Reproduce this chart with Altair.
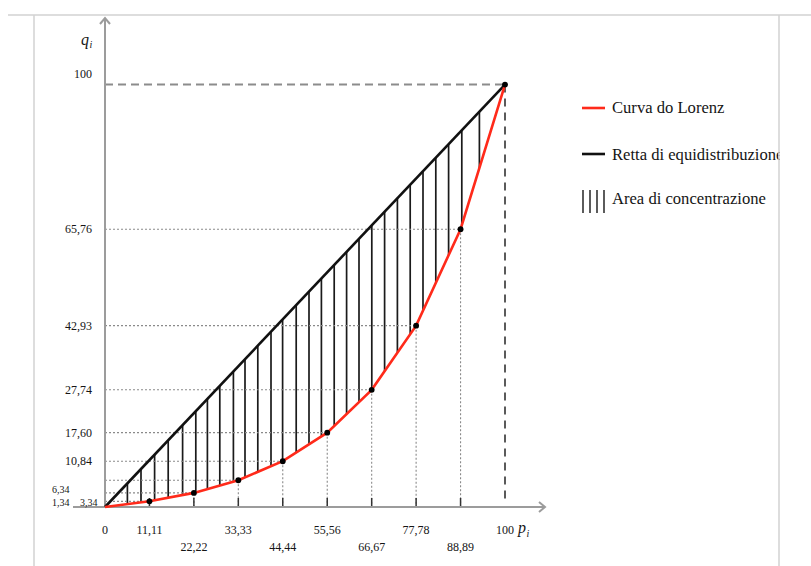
import altair as alt
import pandas as pd

# ---------------- data ----------------
p_vals = [0, 11.11, 22.22, 33.33, 44.44, 55.56, 66.67, 77.78, 88.89, 100]
q_vals = [0, 1.34, 3.34, 6.34, 10.84, 17.60, 27.74, 42.93, 65.76, 100]
x_tick_labels = ["0", "11,11", "22,22", "33,33", "44,44", "55,56", "66,67", "77,78", "88,89", "100"]
y_tick_vals = [10.84, 17.60, 27.74, 42.93, 65.76]
y_tick_labels = ["10,84", "17,60", "27,74", "42,93", "65,76"]
hatch_p = [5.6, 9.0, 12.4, 15.8, 19.4, 22.7, 25.6, 28.7, 32.1, 35.0, 38.2, 41.5, 44.4,
           47.8, 51.0, 54.1, 57.3, 60.4, 63.5, 66.7, 69.9, 73.1, 76.3, 79.5, 82.7,
           85.9, 89.2, 93.6]
legend_labels = ["Curva do Lorenz", "Retta di equidistribuzione", "Area di concentrazione"]

FONT = "Liberation Serif"
TXT = "#151515"
W, H = 440, 490
xs = alt.Scale(domain=[0, 110], nice=False, zero=False)
ys = alt.Scale(domain=[0, 116], nice=False, zero=False)

lor = pd.DataFrame({"p": p_vals, "q": q_vals})
pts = lor[lor.p > 0].reset_index(drop=True)
mid = pts[pts.p < 100].reset_index(drop=True)
top = pts[pts.p == 100].reset_index(drop=True)
eq = pd.DataFrame({"p": [p_vals[0], p_vals[-1]], "q": [p_vals[0], p_vals[-1]]})

rows = []
for i, (p, lab) in enumerate(zip(p_vals, x_tick_labels)):
    rows.append({"p": p, "lab": lab, "row": 1 if (i % 2 == 0 and 0 < i < len(p_vals) - 1) else 0})
xlab = pd.DataFrame(rows)
ylab = pd.DataFrame({"q": y_tick_vals, "lab": y_tick_labels})

X = lambda f: alt.X(f, scale=xs, axis=None)
Y = lambda f: alt.Y(f, scale=ys, axis=None)

one = pd.DataFrame({"a": [0]})

# hatch lines (from equidistribution line down; lower part hidden by white area)
hatch = alt.Chart(pd.DataFrame({"p": hatch_p})).transform_calculate(
    top="datum.p", bot="0").mark_rule(color="#1a1a1a", strokeWidth=1.7).encode(
    x=X("p:Q"), y=Y("top:Q"), y2="bot:Q")

white = alt.Chart(lor).mark_area(color="white", opacity=1, interpolate="linear").encode(
    x=X("p:Q"), y=Y("q:Q"))

hguide = alt.Chart(mid).transform_calculate(zero="0").mark_rule(
    color="#8a8a8a", strokeDash=[2, 2], strokeWidth=1.1).encode(
    x=X("zero:Q"), x2="p:Q", y=Y("q:Q"))
vguide = alt.Chart(mid).transform_calculate(zero="0").mark_rule(
    color="#8a8a8a", strokeDash=[2, 2], strokeWidth=1.1).encode(
    x=X("p:Q"), y=Y("q:Q"), y2="zero:Q")
htop = alt.Chart(top).transform_calculate(zero="0").mark_rule(
    color="#8c8c8c", strokeDash=[8, 5], strokeWidth=2).encode(
    x=X("zero:Q"), x2="p:Q", y=Y("q:Q"))
vtop = alt.Chart(top).mark_rule(
    color="#5a5a5a", strokeDash=[8, 6], strokeWidth=2).encode(
    x=X("p:Q"), y=Y("q:Q"), y2=alt.value(H - 8))

xticks = alt.Chart(mid).mark_rule(color="#333333", strokeWidth=1.5).encode(
    x=X("p:Q"), y=alt.value(H - 9), y2=alt.value(H))

# axes
axis_col = "#9c9c9c"
xaxis = alt.Chart(one).mark_rule(color=axis_col, strokeWidth=2).encode(
    x=alt.value(-32), x2=alt.value(W), y=alt.value(H))
yaxis = alt.Chart(one).mark_rule(color=axis_col, strokeWidth=2).encode(
    x=alt.value(0), y=alt.value(1), y2=alt.value(H))
xarrow = alt.Chart(one).mark_point(shape="M-2.4,-2L0,0L-2.4,2", size=25, filled=False,
                                   color=axis_col, strokeWidth=2, opacity=1).encode(
    x=alt.value(W), y=alt.value(H))
yarrow = alt.Chart(one).mark_point(shape="M-2,2.4L0,0L2,2.4", size=25, filled=False,
                                   color=axis_col, strokeWidth=2, opacity=1).encode(
    x=alt.value(0), y=alt.value(1))

eqline = alt.Chart(eq).mark_line(color="#111111", strokeWidth=2.6).encode(
    x=X("p:Q"), y=Y("q:Q"))
lorline = alt.Chart(lor).mark_line(color="#ff2a1a", strokeWidth=2.6).encode(
    x=X("p:Q"), y=Y("q:Q"))
dots = alt.Chart(pts).mark_circle(size=34, color="black", opacity=1).encode(
    x=X("p:Q"), y=Y("q:Q"))

# tick labels
xl0 = alt.Chart(xlab[xlab.row == 0]).mark_text(font=FONT, fontSize=12, color=TXT).encode(
    x=X("p:Q"), y=alt.value(513), text="lab:N")
xl1 = alt.Chart(xlab[xlab.row == 1]).mark_text(font=FONT, fontSize=12, color=TXT).encode(
    x=X("p:Q"), y=alt.value(530), text="lab:N")
yl = alt.Chart(ylab).mark_text(font=FONT, fontSize=12, color=TXT, align="right").encode(
    x=alt.value(-13), y=Y("q:Q"), text="lab:N")
yl100 = alt.Chart(top).transform_calculate(lab="'100'").mark_text(
    font=FONT, fontSize=12, color=TXT, align="right", dy=-11).encode(
    x=alt.value(-13), y=Y("q:Q"), text="lab:N")
low = alt.Chart(pd.DataFrame({"lab": ["6,34", "1,34", "3,34"],
                              "px": [-53, -53, -25], "py": [473, 486, 486]})).mark_text(
    font=FONT, fontSize=10, color=TXT, align="left").encode(
    x=alt.X("px:Q", scale=None, axis=None), y=alt.Y("py:Q", scale=None, axis=None), text="lab:N")

qi = alt.Chart(one).mark_text(text="q", font=FONT, fontSize=16, fontStyle="italic",
                              color=TXT).encode(x=alt.value(-20), y=alt.value(23))
qi2 = alt.Chart(one).mark_text(text="i", font=FONT, fontSize=10, fontStyle="italic",
                               color=TXT).encode(x=alt.value(-14), y=alt.value(28))
pi = alt.Chart(one).mark_text(text="p", font=FONT, fontSize=16, fontStyle="italic",
                              color=TXT).encode(x=alt.value(417), y=alt.value(511))
pi2 = alt.Chart(one).mark_text(text="i", font=FONT, fontSize=10, fontStyle="italic",
                               color=TXT).encode(x=alt.value(423), y=alt.value(517))

# legend
leg_red = alt.Chart(one).mark_rule(color="#ff2a1a", strokeWidth=2.6).encode(
    x=alt.value(477), x2=alt.value(500), y=alt.value(91))
leg_blk = alt.Chart(one).mark_rule(color="#111111", strokeWidth=2.6).encode(
    x=alt.value(477), x2=alt.value(500), y=alt.value(137))
leg_hatch = [alt.Chart(one).mark_rule(color="#333333", strokeWidth=1.6).encode(
    x=alt.value(xv), y=alt.value(173), y2=alt.value(196)) for xv in (478, 485, 492, 499)]
leg_txt = [alt.Chart(one).mark_text(text=t, font=FONT, fontSize=16.6, color=TXT,
                                    align="left", baseline="middle").encode(
    x=alt.value(507), y=alt.value(yv)) for t, yv in zip(legend_labels, (91, 138, 182))]
clip = alt.Chart(one).mark_rect(color="white").encode(
    x=alt.value(675), x2=alt.value(720), y=alt.value(60), y2=alt.value(220))

frame_col = "#d2d2d2"
ftop = alt.Chart(one).mark_rule(color=frame_col, strokeWidth=1.5).encode(
    x=alt.value(-97), x2=alt.value(720), y=alt.value(-2))
fleft = alt.Chart(one).mark_rule(color=frame_col, strokeWidth=1.5).encode(
    x=alt.value(-71), y=alt.value(-2), y2=alt.value(560))
fright = alt.Chart(one).mark_rule(color=frame_col, strokeWidth=1.5).encode(
    x=alt.value(674), y=alt.value(-2), y2=alt.value(560))

chart = alt.layer(
    hatch, white, hguide, vguide, htop, vtop, xticks, xaxis, yaxis, xarrow, yarrow,
    eqline, lorline, dots, xl0, xl1, yl, yl100, low, qi, qi2, pi, pi2,
    leg_red, leg_blk, *leg_hatch, *leg_txt, clip, ftop, fleft, fright
).properties(
    width=W, height=H,
    padding={"left": 105, "top": 17, "right": 266, "bottom": 59},
    autosize=alt.AutoSizeParams(type="none"),
    background="white",
).configure_view(stroke=None)

chart.save("out.html", embed_options={"renderer": "svg", "actions": False})
